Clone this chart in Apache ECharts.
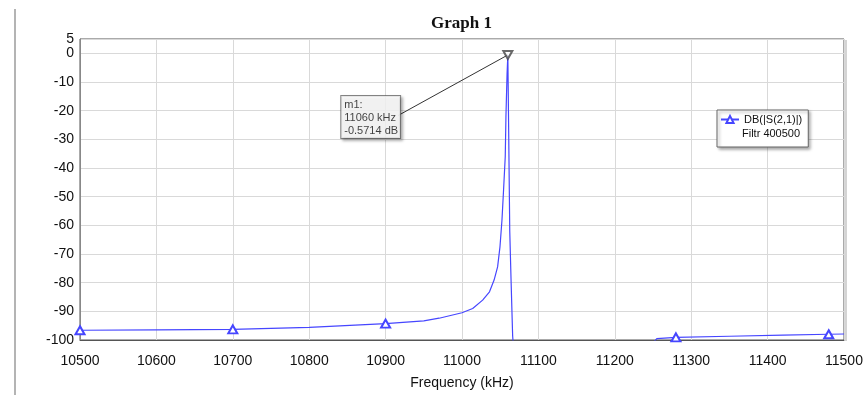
<!DOCTYPE html>
<html>
<head>
<meta charset="utf-8">
<script src="https://cdn.jsdelivr.net/npm/echarts@6/dist/echarts.min.js"></script>
<style>
  html, body { margin: 0; padding: 0; background: #fff; }
  #chart { width: 866px; height: 395px; }
</style>
</head>
<body>
<div id="chart"></div>
<script>
// frequency (kHz) and S21 (dB)
var freqs = [10500, 10600, 10700, 10800, 10900, 10950, 10970, 11000, 11014, 11027, 11036, 11042, 11046.6, 11049.7,
    11052.3, 11054.4, 11056.6, 11057.5, 11059, 11060, 11061, 11062.5, 11064.2, 11066.3, 11070, 11150, 11240,
    11255, 11280, 11350, 11420, 11480, 11500]
var s21 = [-96.6, -96.5, -96.3, -95.6, -94.3, -93.3, -92.4, -90.5, -89.0, -86.1, -83.2, -79.1, -74.5, -67.5,
    -58.2, -47.7, -36.1, -22.2, -7.0, -0.5714, -25, -62, -79, -98.6, -112, -125, -104,
    -99.5, -99.1, -98.7, -98.3, -98.0, -97.9]
var markerFreqs = [10500, 10700, 10900, 11280, 11480]
var m1 = [11060, -0.5714]
var m1Text = 'm1:\n11060 kHz\n-0.5714 dB'
var seriesName = 'DB(|S(2,1)|)'
var setupName = 'Filtr 400500'

var font = 'Liberation Sans, Arial, sans-serif'
var blue = '#4646ff'

var lineData = freqs.map(function (f, i) {
    var item = { value: [f, s21[i]] }
    if (markerFreqs.indexOf(f) < 0) item.symbol = 'none'
    return item
})

var chart = echarts.init(document.getElementById('chart'))

var option = {
    animation: false,
    backgroundColor: '#fff',
    title: {
        text: 'Graph 1',
        left: 426,
        top: 10,
        textStyle: { fontFamily: 'Liberation Serif, Times New Roman, serif', fontWeight: 'bold', fontSize: 17, color: '#111' }
    },
    grid: {
        left: 80, right: 22, top: 39, bottom: 55,
        outerBoundsMode: 'none',
        containLabel: false,
        show: true, borderColor: '#555', borderWidth: 1
    },
    legend: {
        data: [seriesName],
        left: 717, top: 110,
        orient: 'vertical',
        padding: [4, 6, 22, 3],
        itemWidth: 18, itemHeight: 9, itemGap: 4,
        backgroundColor: '#fff',
        borderColor: '#666', borderWidth: 1,
        shadowBlur: 3, shadowOffsetX: 2, shadowOffsetY: 2, shadowColor: 'rgba(0,0,0,0.35)',
        textStyle: { fontFamily: font, fontSize: 11, color: '#111' }
    },
    xAxis: {
        type: 'value',
        min: 10500, max: 11500, interval: 100,
        name: 'Frequency (kHz)',
        nameLocation: 'middle',
        nameGap: 36,
        nameTextStyle: { fontFamily: font, fontSize: 14, color: '#111' },
        axisLine: { onZero: false, lineStyle: { color: '#555' } },
        axisTick: { show: false },
        axisLabel: { fontFamily: font, fontSize: 14, color: '#111', margin: 14, formatter: function (v) { return String(v) } },
        splitLine: { lineStyle: { color: '#d9d9d9' } }
    },
    yAxis: {
        type: 'value',
        min: -100, max: 5, interval: 10,
        axisLine: { show: true, onZero: false, lineStyle: { color: '#888' } },
        axisTick: { show: false },
        axisLabel: { fontFamily: font, fontSize: 14, color: '#111', margin: 6 },
        splitLine: { lineStyle: { color: '#d9d9d9' } }
    },
    series: [
        {
            name: seriesName,
            type: 'line',
            data: lineData,
            symbol: 'emptyTriangle',
            symbolSize: [9, 8],
            showSymbol: true,
            clip: true,
            color: blue,
            lineStyle: { width: 1.2, color: blue, type: 'solid' },
            itemStyle: { color: blue, borderWidth: 1 },
            z: 3
        },
        {
            name: 'm1',
            type: 'scatter',
            data: [m1],
            symbol: 'emptyTriangle',
            symbolRotate: 180,
            symbolSize: [9, 8],
            itemStyle: { color: '#444', borderWidth: 1 },
            label: {
                show: true,
                formatter: m1Text,
                position: [-161, 46],
                fontFamily: font, fontSize: 11, lineHeight: 13, color: '#111',
                backgroundColor: '#fff',
                borderColor: '#666', borderWidth: 1,
                padding: [2, 2, 1, 3],
                shadowBlur: 3, shadowOffsetX: 2, shadowOffsetY: 2, shadowColor: 'rgba(0,0,0,0.35)'
            },
            markLine: {
                silent: true,
                symbol: 'none',
                label: { show: false },
                lineStyle: { color: '#333', width: 1, type: 'solid' },
                data: [[{ coord: m1 }, { coord: [10917, -21.6] }]]
            },
            z: 5
        }
    ],
    graphic: [
        { type: 'rect', left: 14, top: 9, shape: { width: 2, height: 386 }, style: { fill: '#b4b4b4' } },
        { type: 'rect', left: 845, top: 40, shape: { width: 2, height: 301 }, style: { fill: '#d4d4d4' } },
        {
            type: 'text', left: 742, top: 128,
            style: { text: setupName, fontFamily: font, fontSize: 11, fill: '#111' },
            z: 100
        }
    ]
}

chart.setOption(option)
</script>
</body>
</html>
